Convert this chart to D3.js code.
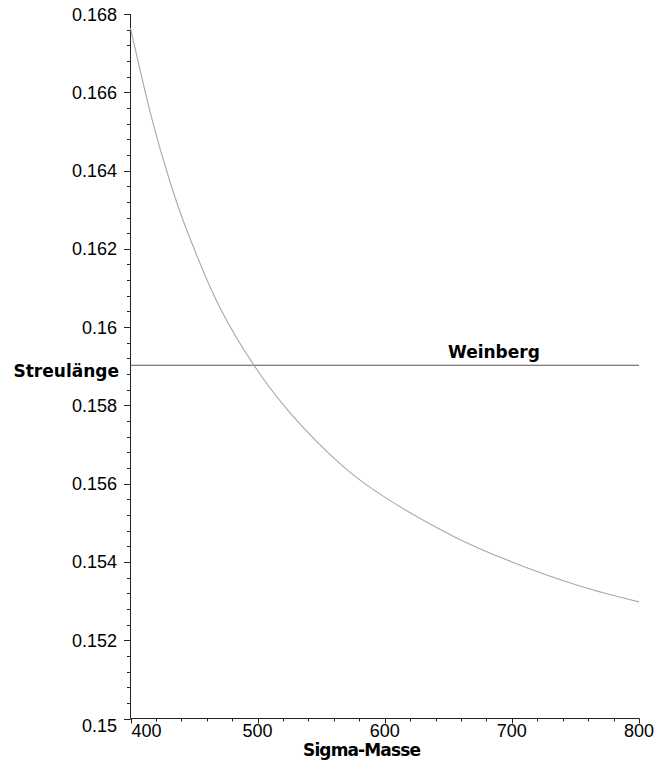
<!DOCTYPE html>
<html>
<head>
<meta charset="utf-8">
<script src="https://cdn.jsdelivr.net/npm/d3@7"></script>
<style>
  html, body { margin: 0; padding: 0; background: #fff; }
  svg { display: block; }
  .tick-label { font-family: "Liberation Sans", Arial, sans-serif; font-size: 18px; fill: #000; }
  .axis-title { font-family: "DejaVu Sans", Verdana, sans-serif; font-size: 17px; font-weight: bold; fill: #000; }
</style>
</head>
<body>
<svg id="chart" width="656" height="760"></svg>
<script>
// ---- Data ----
const sigmaMass = [400, 417, 431, 444, 470, 497, 525, 567, 596, 655, 700, 754, 800];
const scatteringLength = [0.16764, 0.16530, 0.16372, 0.16250, 0.16052, 0.15903, 0.15783, 0.15645, 0.15574, 0.15464, 0.15400, 0.15338, 0.15298];
const weinbergValue = 0.159;
const weinbergLabel = "Weinberg";
const xTicks = [400, 500, 600, 700, 800];
const yTicks = [0.15, 0.152, 0.154, 0.156, 0.158, 0.16, 0.162, 0.164, 0.166, 0.168];
const yTickLabels = ["0.15", "0.152", "0.154", "0.156", "0.158", "0.16", "0.162", "0.164", "0.166", "0.168"];
const xTitle = "Sigma-Masse";
const yTitle = "Streulänge";

const svg = d3.select("#chart");
const x = d3.scaleLinear().domain([400, 800]).range([130.5, 639]);
const y = d3.scaleLinear().domain([0.15, 0.168]).range([718.5, 14]);

// minor ticks
const xMinor = d3.range(400, 800.001, 20);
const yMinor = d3.range(0, 46).map(i => 0.15 + i * 0.0004);

const axisColor = "#222";

// y axis line
svg.append("line").attr("x1", 130.5).attr("x2", 130.5).attr("y1", y(0.15)).attr("y2", y(0.168))
  .attr("stroke", axisColor).attr("stroke-width", 1);
// x axis line
svg.append("line").attr("x1", x(400)).attr("x2", x(800)).attr("y1", 718.5).attr("y2", 718.5)
  .attr("stroke", axisColor).attr("stroke-width", 1);

// y minor ticks
svg.append("g").selectAll("line").data(yMinor).join("line")
  .attr("x1", 127).attr("x2", 130.5)
  .attr("y1", d => Math.round(y(d)) + 0.5).attr("y2", d => Math.round(y(d)) + 0.5)
  .attr("stroke", axisColor).attr("stroke-width", 1);
// y major ticks
svg.append("g").selectAll("line").data(yTicks).join("line")
  .attr("x1", 124).attr("x2", 130.5)
  .attr("y1", d => Math.round(y(d)) + 0.5).attr("y2", d => Math.round(y(d)) + 0.5)
  .attr("stroke", axisColor).attr("stroke-width", 1);
// y tick labels
svg.append("g").selectAll("text").data(yTicks).join("text")
  .attr("class", "tick-label")
  .attr("x", 117)
  .attr("y", (d, i) => y(d) + 6.5 + (i === 0 ? 7 : 0))
  .attr("text-anchor", "end")
  .text((d, i) => yTickLabels[i]);

// x minor ticks
svg.append("g").selectAll("line").data(xMinor).join("line")
  .attr("x1", d => Math.round(x(d)) + 0.5).attr("x2", d => Math.round(x(d)) + 0.5)
  .attr("y1", 718.5).attr("y2", 721.5)
  .attr("stroke", axisColor).attr("stroke-width", 1);
// x major ticks
svg.append("g").selectAll("line").data(xTicks).join("line")
  .attr("x1", d => Math.round(x(d)) + 0.5).attr("x2", d => Math.round(x(d)) + 0.5)
  .attr("y1", 718.5).attr("y2", 723.5)
  .attr("stroke", axisColor).attr("stroke-width", 1);
// x tick labels
svg.append("g").selectAll("text").data(xTicks).join("text")
  .attr("class", "tick-label")
  .attr("x", (d, i) => i === 0 ? x(d) + 1 : x(d))
  .attr("y", 736.5)
  .attr("text-anchor", (d, i) => i === 0 ? "start" : "middle")
  .text(d => d);

// Weinberg line
svg.append("line")
  .attr("x1", x(400)).attr("x2", x(800))
  .attr("y1", y(weinbergValue) - 1).attr("y2", y(weinbergValue) - 1)
  .attr("stroke", "#555").attr("stroke-width", 1);
svg.append("text").attr("class", "axis-title")
  .attr("x", 448).attr("y", 358).text(weinbergLabel);

// Curve
const pts = sigmaMass.map((m, i) => [m, scatteringLength[i]]);
const line = d3.line().x(d => x(d[0])).y(d => y(d[1])).curve(d3.curveCatmullRom.alpha(0.5));
svg.append("path").datum(pts)
  .attr("d", line)
  .attr("fill", "none")
  .attr("stroke", "#a8a8a8")
  .attr("stroke-width", 1.1);

// Axis titles
svg.append("text").attr("class", "axis-title")
  .attr("x", 119).attr("y", 377).attr("text-anchor", "end").text(yTitle);
svg.append("text").attr("class", "axis-title")
  .attr("x", 362).attr("y", 756).attr("text-anchor", "middle").attr("textLength", 118)
  .text(xTitle);
</script>
</body>
</html>
